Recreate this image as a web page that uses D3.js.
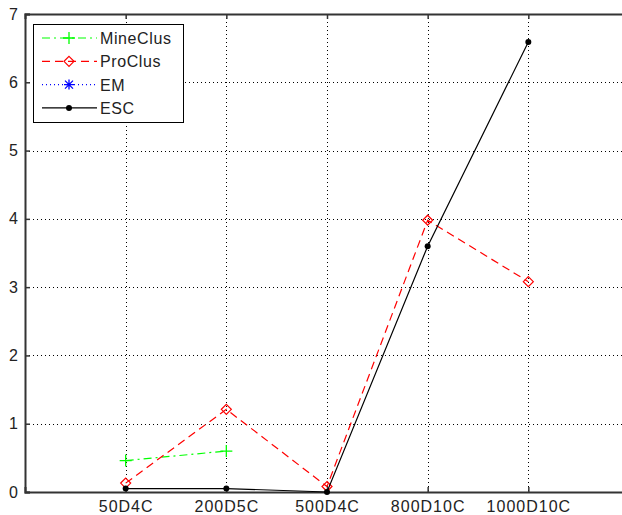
<!DOCTYPE html>
<html><head><meta charset="utf-8">
<script src="https://cdn.jsdelivr.net/npm/d3@7"></script>
<style>body{margin:0;background:#fff}svg{display:block}text{font-family:"Liberation Sans",Arial,sans-serif}</style>
</head><body>
<svg id="c" width="622" height="515"></svg>
<script>
const categories = ["50D4C","200D5C","500D4C","800D10C","1000D10C"];
const mineClus = [0.46, 0.60, null, null, null];
const proClus  = [0.13, 1.21, 0.08, 3.98, 3.08];
const em       = [null, null, null, null, null];
const esc      = [0.05, 0.05, 0.0, 3.6, 6.59];
const yTicks = [0,1,2,3,4,5,6,7];
const seriesNames = ["MineClus","ProClus","EM","ESC"];

const svg = d3.select("#c");
const L = 25, R = 629, T = 14, B = 492;
const x = d3.scaleLinear().domain([0, 6]).range([L, R]);
const y = d3.scaleLinear().domain([0, 7]).range([B, T]);
const xIdx = categories.map((c,i)=>i+1);

// grid
const g = svg.append("g");
g.selectAll(".gy").data(yTicks.slice(1,-1)).join("line")
  .attr("x1", L).attr("x2", R).attr("y1", d=>Math.round(y(d))+0.5).attr("y2", d=>Math.round(y(d))+0.5)
  .attr("stroke","#000").attr("stroke-width",1).attr("stroke-dasharray","1,3");
g.selectAll(".gx").data(xIdx).join("line")
  .attr("x1", d=>Math.round(x(d))+0.5).attr("x2", d=>Math.round(x(d))+0.5).attr("y1", T).attr("y2", B)
  .attr("stroke","#000").attr("stroke-width",1).attr("stroke-dasharray","1,3");

// axes
const axColor = "#333";
const yAxis = d3.axisLeft(y).tickValues(yTicks).tickSize(-5).tickPadding(7).tickFormat(d3.format("d"));
const yg = svg.append("g").attr("transform",`translate(${L},0)`).call(yAxis);
const xAxis = d3.axisBottom(x).tickValues(xIdx).tickSize(-5).tickPadding(9).tickFormat((d,i)=>categories[i]);
const xg = svg.append("g").attr("transform",`translate(0,${B})`).call(xAxis);
const xTop = d3.axisTop(x).tickValues(xIdx).tickSize(-5).tickFormat("");
const xtg = svg.append("g").attr("transform",`translate(0,${T})`).call(xTop);
const yRight = d3.axisRight(y).tickValues(yTicks).tickSize(-5).tickFormat("");
const yrg = svg.append("g").attr("transform",`translate(${R},0)`).call(yRight);
[yg,xg,xtg,yrg].forEach(a=>{
  a.select(".domain").attr("stroke",axColor).attr("stroke-width",2);
  a.selectAll(".tick line").attr("stroke",axColor).attr("stroke-width",1.5);
  a.selectAll("text").attr("font-size",16).attr("letter-spacing","1px").attr("fill","#222").attr("font-family","Liberation Sans, Arial, sans-serif");
});
yg.selectAll("text").attr("letter-spacing",null);

// series
const series = [
  {name:seriesNames[0], vals:mineClus, color:"#00ff00", dash:"8,4,2,4", marker:"plus"},
  {name:seriesNames[1], vals:proClus, color:"#ff0000", dash:"8,5", marker:"diamond"},
  {name:seriesNames[2], vals:em, color:"#0000ff", dash:"1,3", marker:"star"},
  {name:seriesNames[3], vals:esc, color:"#000000", dash:null, marker:"dot"}
];
const line = d3.line().defined(d=>d.v!=null).x(d=>x(d.i)).y(d=>y(d.v));

function drawMarker(sel, type, color, cx, cy) {
  if (type==="plus") {
    sel.append("path").attr("d",`M${cx-6},${cy}H${cx+6}M${cx},${cy-6}V${cy+6}`).attr("stroke",color).attr("stroke-width",1.3).attr("fill","none");
  } else if (type==="diamond") {
    sel.append("path").attr("d",`M${cx},${cy-5}L${cx+5},${cy}L${cx},${cy+5}L${cx-5},${cy}Z`).attr("stroke",color).attr("stroke-width",1.2).attr("fill","none");
  } else if (type==="star") {
    sel.append("path").attr("d",`M${cx-5},${cy}H${cx+5}M${cx},${cy-5}V${cy+5}M${cx-4},${cy-4}L${cx+4},${cy+4}M${cx-4},${cy+4}L${cx+4},${cy-4}`).attr("stroke",color).attr("stroke-width",1.3).attr("fill","none");
  } else {
    sel.append("circle").attr("cx",cx).attr("cy",cy).attr("r",3).attr("fill",color);
  }
}

series.forEach(s=>{
  const data = s.vals.map((v,k)=>({i:xIdx[k], v}));
  svg.append("path").datum(data).attr("d",line).attr("fill","none")
    .attr("stroke",s.color).attr("stroke-width",1.2).attr("stroke-dasharray",s.dash);
  const mg = svg.append("g");
  data.filter(d=>d.v!=null).forEach(d=>drawMarker(mg, s.marker, s.color, x(d.i), y(d.v)));
});

// legend
const lg = svg.append("g");
lg.append("rect").attr("x",33.5).attr("y",24.5).attr("width",150).attr("height",98)
  .attr("fill","#fff").attr("stroke","#000").attr("stroke-width",1);
series.forEach((s,k)=>{
  const yy = 38 + k*23.3;
  lg.append("line").attr("x1",42).attr("x2",97).attr("y1",yy).attr("y2",yy)
    .attr("stroke",s.color).attr("stroke-width",1.2).attr("stroke-dasharray",s.dash);
  drawMarker(lg, s.marker, s.color, 69, yy);
  lg.append("text").attr("x",100).attr("y",yy+6).attr("font-size",16).attr("letter-spacing","0.6px").attr("fill","#222").text(s.name);
});
</script>
</body></html>
